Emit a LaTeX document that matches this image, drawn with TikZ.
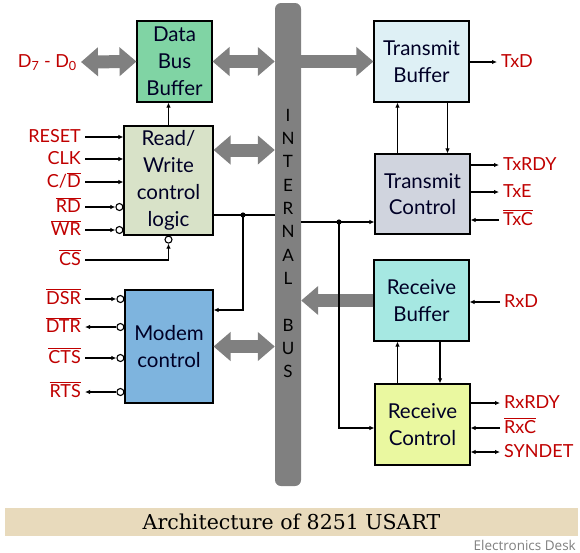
\documentclass[tikz,border=0pt]{standalone}
\usepackage{xcolor}
\usepackage{fontspec}
\setmainfont{Lato}
\newfontfamily\capfont{DejaVu Serif}
\newfontfamily\credfont{Open Sans}
\usepackage{tikz}
\usetikzlibrary{positioning, shapes.geometric, arrows.meta}

\definecolor{sigred}{RGB}{192,0,0}
\definecolor{busgray}{RGB}{128,128,128}
\definecolor{dbbgreen}{RGB}{128,212,164}
\definecolor{rwgray}{RGB}{216,226,200}
\definecolor{modemblue}{RGB}{126,180,222}
\definecolor{txbblue}{RGB}{222,240,245}
\definecolor{txcgray}{RGB}{208,212,222}
\definecolor{rxbaqua}{RGB}{166,232,226}
\definecolor{rxcyellow}{RGB}{234,248,160}
\definecolor{capbeige}{RGB}{232,218,188}

\newcommand{\ovl}[1]{$\overline{\mbox{#1}}$}

\begin{document}
\begin{tikzpicture}[x=1pt, y=-1pt, >={Latex[length=5pt,width=4.5pt]}]

% Define block styles
\tikzstyle{block} = [draw, rectangle, line width=1.1pt, align=center, text=black!85!blue, font=\fontsize{20.5}{26.8}\selectfont]
\tikzstyle{bubble} = [draw, circle, fill=white, line width=1.1pt, inner sep=0pt, minimum size=7pt]
\tikzstyle{sig} = [text=sigred, inner xsep=4pt, inner ysep=0pt, text height=13pt, text depth=3pt, font=\fontsize{18}{20}\selectfont]
\tikzstyle{buslbl} = [inner sep=0pt, font=\fontsize{17}{20}\selectfont]
\tikzstyle{dbigarrow} = [draw=busgray, line width=13pt, {Triangle[length=17pt,width=28pt]}-{Triangle[length=17pt,width=28pt]}]
\tikzstyle{bigarrow} = [draw=busgray, line width=13pt, -{Triangle[length=17pt,width=28pt]}]
\tikzstyle{wire} = [line width=1.2pt]

\fill[white] (0,0) rectangle (580,552);
\useasboundingbox (0,0) rectangle (580,552);

% Nodes
\node [fill=busgray, rounded corners=6pt, minimum width=26pt, minimum height=483pt, inner sep=0pt] (bus) at (288,244.5) {};
\foreach \l [count=\i] in {I,N,T,E,R,N,A,L}
  \node [buslbl] (bi\i) at (288,92+23.3*\i) {\l};
\foreach \l [count=\i] in {B,U,S}
  \node [buslbl] (bb\i) at (288,301.7+23.3*\i) {\l};

\node [block, fill=dbbgreen, minimum width=75pt, minimum height=81pt] (dbb) at (174.5,61.5) {Data\\Bus\\Buffer};
\node [block, fill=rwgray, minimum width=89pt, minimum height=109pt] (rw) at (168.5,180.5) {Read/\\Write\\control\\logic};
\node [block, fill=modemblue, minimum width=88pt, minimum height=113pt] (modem) at (169,346.5) {Modem\\control};
\node [block, fill=txbblue, minimum width=95pt, minimum height=81pt] (txb) at (421.5,61.5) {Transmit\\Buffer};
\node [block, fill=txcgray, minimum width=95pt, minimum height=80pt] (txc) at (422.5,194) {Transmit\\Control};
\node [block, fill=rxbaqua, minimum width=95pt, minimum height=81pt] (rxb) at (421.5,300.5) {Receive\\Buffer};
\node [block, fill=rxcyellow, minimum width=95pt, minimum height=81pt] (rxc) at (422.5,424.5) {Receive\\Control};

% left side signals
\node [sig, anchor=east] (d70) at (81,62) {D\textsubscript{7} - D\textsubscript{0}};
\node [sig, anchor=east] (reset) at (85,137) {RESET};
\node [sig, anchor=east] (clk) at (85,159) {CLK};
\node [sig, anchor=east] (cd) at (85,182) {C/\ovl{D}};
\node [sig, anchor=east] (rd) at (85,207) {\ovl{RD}};
\node [sig, anchor=east] (wr) at (85,230) {\ovl{WR}};
\node [sig, anchor=east] (cs) at (85,260) {\ovl{CS}};
\node [sig, anchor=east] (dsr) at (85,299) {\ovl{DSR}};
\node [sig, anchor=east] (dtr) at (85,327) {\ovl{DTR}};
\node [sig, anchor=east] (cts) at (85,358) {\ovl{CTS}};
\node [sig, anchor=east] (rts) at (85,392) {\ovl{RTS}};

% right side signals
\node [sig, anchor=west] (txd) at (497,62) {TxD};
\node [sig, anchor=west] (txrdy) at (499,165) {TxRDY};
\node [sig, anchor=west] (txe) at (499,192) {TxE};
\node [sig, anchor=west] (txcclk) at (499,220) {\ovl{TxC}};
\node [sig, anchor=west] (rxd) at (500,302) {RxD};
\node [sig, anchor=west] (rxrdy) at (500,403) {RxRDY};
\node [sig, anchor=west] (rxcclk) at (500,428) {\ovl{RxC}};
\node [sig, anchor=west] (syndet) at (500,452) {SYNDET};

% bubbles
\node [bubble, anchor=east] (brd) at (rw.west |- rd.east) {};
\node [bubble, anchor=east] (bwr) at (rw.west |- wr.east) {};
\node [bubble, anchor=north] (bcs) at (rw.south) {};
\node [bubble, anchor=east] (bdsr) at (modem.west |- dsr.east) {};
\node [bubble, anchor=east] (bdtr) at (modem.west |- dtr.east) {};
\node [bubble, anchor=east] (bcts) at (modem.west |- cts.east) {};
\node [bubble, anchor=east] (brts) at (modem.west |- rts.east) {};

\coordinate (j1) at (243,215);
\coordinate (j2) at (339,222);
\coordinate (j3) at (339,428);

% Connections
\draw [dbigarrow] (d70.east) -- (dbb.west);
\draw [dbigarrow] (dbb.east) -- (bus.west |- dbb.east);
\draw [dbigarrow] ([yshift=30.5pt]rw.east) -- ([yshift=30.5pt]bus.west |- rw.east);
\draw [dbigarrow] (modem.east) -- (bus.west |- modem.east);
\draw [bigarrow] (bus.east |- txb.west) -- (txb.west);
\draw [bigarrow] (rxb.west) -- (bus.east |- rxb.west);

\draw [wire, ->] (rw.north) -- (rw.north |- dbb.south);
\draw [wire, ->] (reset.east) -- (rw.west |- reset.east);
\draw [wire, ->] (clk.east) -- (rw.west |- clk.east);
\draw [wire, ->] (cd.east) -- (rw.west |- cd.east);
\draw [wire, ->] (rd.east) -- (brd);
\draw [wire, ->] (wr.east) -- (bwr);
\draw [wire, ->] (cs.east) -| (bcs);

\draw [wire] (rw.east |- j1) -- (bus.west |- j1);
\fill (j1) circle (2.6pt);
\draw [wire, ->] (j1) |- ([yshift=36.5pt]modem.east);

\draw [wire, ->] (dsr.east) -- (bdsr);
\draw [wire, ->] (bdtr) -- (dtr.east);
\draw [wire, ->] (cts.east) -- (bcts);
\draw [wire, ->] (brts) -- (rts.east);

\draw [wire, ->] (bus.east |- j2) -- (txc.west |- j2);
\fill (j2) circle (2.6pt);
\draw [wire, ->] (j2) -- (j3) -- (rxc.west |- j3);

\draw [wire, ->] ([xshift=-25pt]txc.north) -- ([xshift=-25pt]txc.north |- txb.south);
\draw [wire, ->] ([xshift=26pt]txb.south) -- ([xshift=26pt]txb.south |- txc.north);
\draw [wire, ->] ([xshift=-25pt]rxc.north) -- ([xshift=-25pt]rxc.north |- rxb.south);
\draw [wire, ->] ([xshift=18.5pt]rxb.south) -- ([xshift=18.5pt]rxb.south |- rxc.north);

\draw [wire, ->] (txb.east |- txd.west) -- (txd.west);
\draw [wire, ->] (txc.east |- txrdy.west) -- (txrdy.west);
\draw [wire, ->] (txc.east |- txe.west) -- (txe.west);
\draw [wire, ->] (txcclk.west) -- (txc.east |- txcclk.west);
\draw [wire, ->] (rxd.west) -- (rxb.east |- rxd.west);
\draw [wire, ->] (rxc.east |- rxrdy.west) -- (rxrdy.west);
\draw [wire, ->] (rxcclk.west) -- (rxc.east |- rxcclk.west);
\draw [wire, <->] (rxc.east |- syndet.west) -- (syndet.west);

% caption
\node [fill=capbeige, minimum width=573pt, minimum height=28pt, inner sep=0pt, font=\capfont\fontsize{20.5}{22}\selectfont] (cap) at (291.5,522) {Architecture of 8251 USART};
\node [anchor=east, text=gray, inner sep=0pt, font=\credfont\fontsize{13.5}{15}\selectfont] (cred) at (576,545) {Electronics Desk};

\end{tikzpicture}
\end{document}
